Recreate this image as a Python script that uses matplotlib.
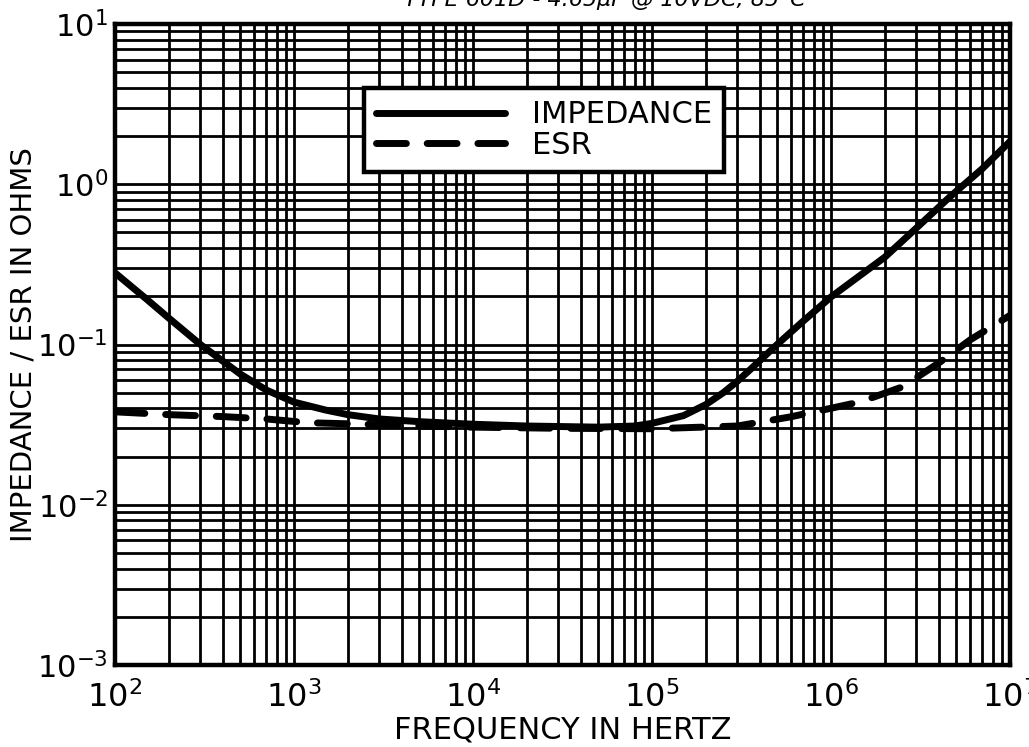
import matplotlib
matplotlib.use("Agg")
import matplotlib.pyplot as plt
from matplotlib.ticker import LogLocator, NullFormatter

# ---- data ----
imp_freq = [100, 150, 200, 300, 500, 700, 1000, 1500, 2000, 3000, 5000, 1e4, 2e4, 5e4,
            8e4, 1e5, 1.5e5, 2e5, 2.5e5, 3e5, 3.5e5, 5e5, 7e5, 1e6, 2e6, 3e6, 4.6e6,
            7e6, 1e7]
imp_vals = [0.28, 0.192, 0.146, 0.100, 0.0655, 0.052, 0.0437, 0.039, 0.0365, 0.0343,
            0.033, 0.0318, 0.031, 0.0305, 0.031, 0.0322, 0.036, 0.0422, 0.050, 0.059,
            0.069, 0.100, 0.140, 0.198, 0.351, 0.533, 0.832, 1.25, 1.85]

esr_freq = [100, 200, 400, 700, 1200, 2000, 5000, 1e4, 3e4, 1e5, 3e5, 5.9e5, 1e6,
            1.45e6, 2.5e6, 4e6, 6e6, 1e7]
esr_vals = [0.038, 0.0365, 0.0355, 0.0343, 0.0325, 0.032, 0.031, 0.0305, 0.030, 0.0298,
            0.031, 0.0353, 0.040, 0.0438, 0.0543, 0.0767, 0.107, 0.152]

series_labels = ["IMPEDANCE", "ESR"]
x_label = "FREQUENCY IN HERTZ"
y_label = "IMPEDANCE / ESR IN OHMS"
title = "TYPE 601D - 4.65\u00b5F @ 10VDC, 85\u00b0C"

plt.rcParams['font.family'] = ['DejaVu Sans']
plt.rcParams['mathtext.default'] = 'regular'

fig = plt.figure(figsize=(10.29, 7.47), dpi=100)
ax = fig.add_axes([115/1029, 82/747, 895/1029, 641/747])

ax.set_xscale('log')
ax.set_yscale('log')
ax.set_xlim(1e2, 1e7)
ax.set_ylim(1e-3, 1e1)

ax.xaxis.set_major_locator(LogLocator(base=10, numticks=20))
ax.yaxis.set_major_locator(LogLocator(base=10, numticks=20))
ax.xaxis.set_minor_locator(LogLocator(base=10, subs=range(2, 10), numticks=50))
ax.yaxis.set_minor_locator(LogLocator(base=10, subs=range(2, 10), numticks=50))
ax.xaxis.set_minor_formatter(NullFormatter())
ax.yaxis.set_minor_formatter(NullFormatter())

ax.grid(True, which='both', color='black', lw=2.0)
ax.set_axisbelow(True)
ax.tick_params(which='both', length=0)
ax.tick_params(axis='x', pad=12, labelsize=23)
ax.tick_params(axis='y', pad=5, labelsize=22)
for s in ax.spines.values():
    s.set_linewidth(3.2)
    s.set_color('black')

l1, = ax.plot(imp_freq, imp_vals, color='black', lw=5, solid_capstyle='round',
              solid_joinstyle='round', label=series_labels[0], zorder=3)
l2, = ax.plot(esr_freq, esr_vals, color='black', lw=5, linestyle=(0, (4.3, 3.0)),
              dash_capstyle='round', label=series_labels[1], zorder=3)

leg = ax.legend(loc='upper left', bbox_to_anchor=((364-115)/895, (665-88)/641),
                fontsize=22, handlelength=4.2, handletextpad=0.9, borderpad=0.4,
                labelspacing=0.05, fancybox=False, framealpha=1, edgecolor='black',
                borderaxespad=0)
leg.get_frame().set_linewidth(3.2)

ax.set_xlabel(x_label, fontsize=22, labelpad=1)
ax.set_ylabel(y_label, fontsize=21, labelpad=0)

fig.text(605/1029, 1 - 6/747, title, fontsize=16, ha='center', va='baseline',
         style='italic')

fig.savefig("out.png", dpi=100, facecolor='white')
